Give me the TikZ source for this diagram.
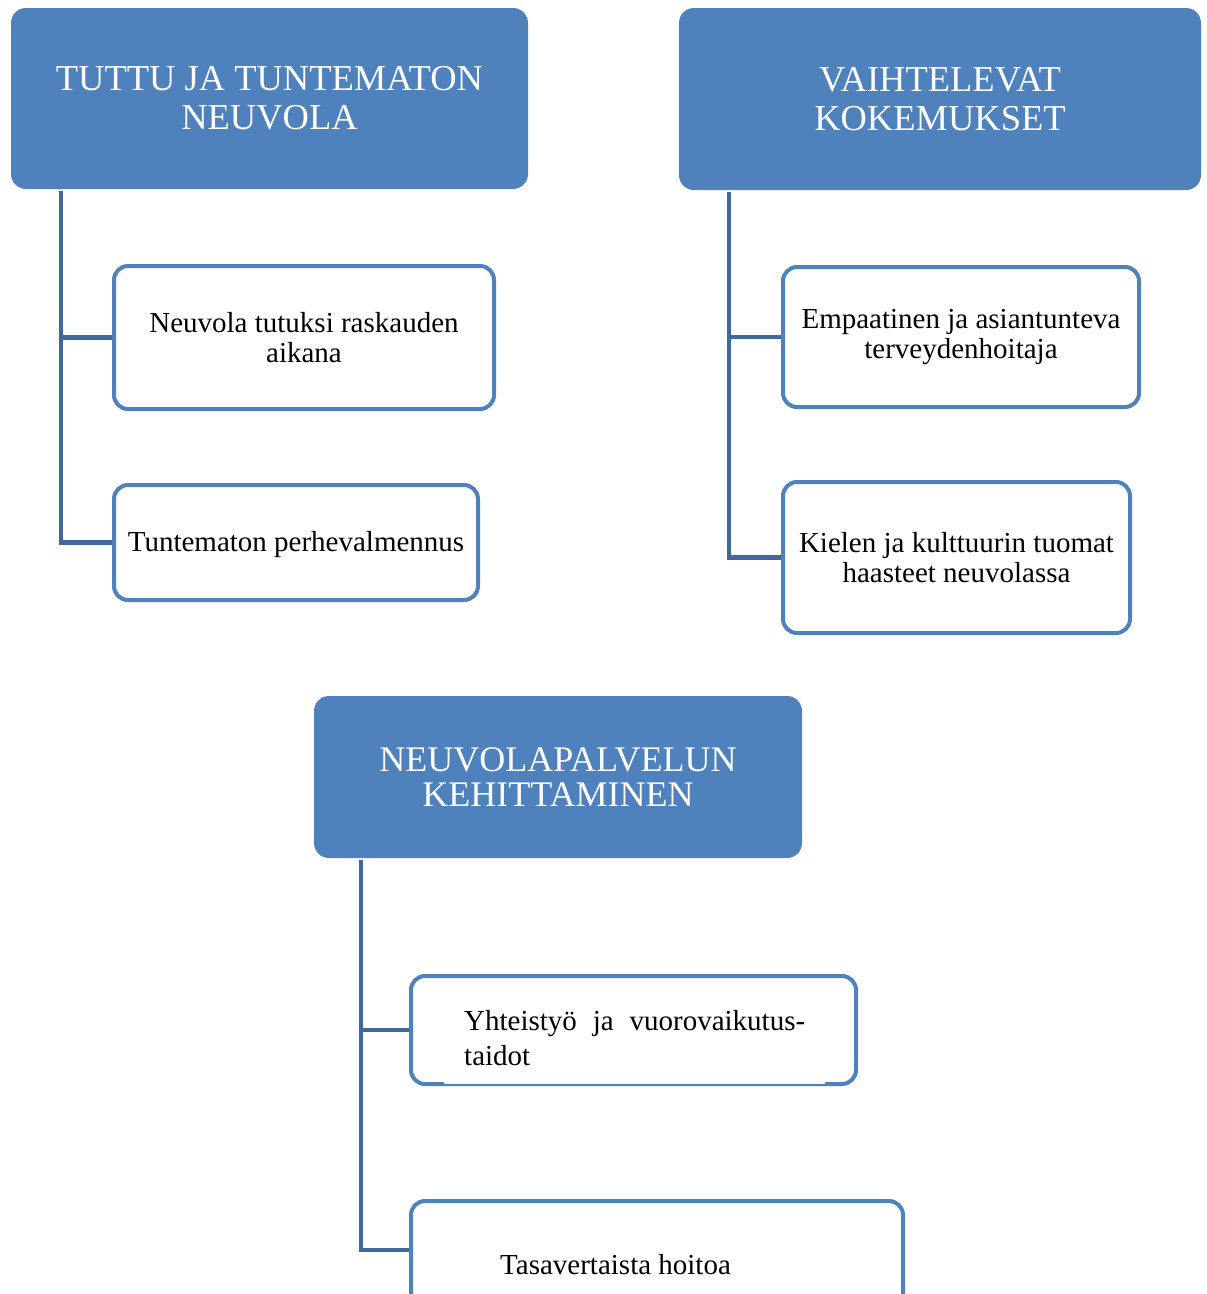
\documentclass[tikz,border=0pt]{standalone}
\usepackage{fontspec}
\setmainfont{Liberation Serif}
\usepackage{xcolor}
\usepackage{tikz}
\definecolor{boxblue}{HTML}{4F81BD}
\definecolor{lineblue}{HTML}{41689C}

\begin{document}
\begin{tikzpicture}[x=1pt, y=-1pt,
  head/.style={fill=boxblue, rounded corners=15pt, text=white, align=center, font=\fontsize{36.5}{39}\selectfont, inner sep=0pt},
  sub/.style={draw=boxblue, fill=white, line width=4pt, rounded corners=14pt, align=center, font=\fontsize{29}{30}\selectfont, inner sep=0pt},
  subtxt/.style={font=\fontsize{29}{35}\selectfont, inner sep=0pt, anchor=west},
  link/.style={draw=lineblue, line width=4.5pt}
]
  \useasboundingbox (0,0) rectangle (1207,1294);

  % Connectors (behind the boxes)
  \coordinate (spineA) at (61,191);
  \coordinate (spineB) at (729,192);
  \coordinate (spineC) at (361,860);

  % Top left group
  \node[head, minimum width=517pt, minimum height=181pt] (tuttu) at (269.5,98.5) {TUTTU JA TUNTEMATON\\NEUVOLA};
  \node[sub, minimum width=380pt, minimum height=143pt] (tutuksi) at (304,337.5) {Neuvola tutuksi raskauden\\aikana};
  \node[sub, minimum width=364pt, minimum height=115pt, text depth=2pt] (perhe) at (296,542.5) {Tuntematon perhevalmennus};

  \draw[link] (spineA) |- (tutuksi.west);
  \draw[link] (spineA) |- (perhe.west);

  % Top right group
  \node[head, minimum width=522pt, minimum height=182pt] (vaiht) at (940,99) {VAIHTELEVAT\\KOKEMUKSET};
  \node[sub, minimum width=356pt, minimum height=140pt] (empa) at (961,337) {Empaatinen ja asiantunteva\\terveydenhoitaja};
  \node[sub, minimum width=347pt, minimum height=151pt] (kieli) at (956.5,557.5) {Kielen ja kulttuurin tuomat\\haasteet neuvolassa};

  \draw[link] (spineB) |- (empa.west);
  \draw[link] (spineB) |- (kieli.west);

  % Bottom group
  \node[head, minimum width=488pt, minimum height=162pt, font=\fontsize{36}{35}\selectfont] (kehit) at (558,777) {NEUVOLAPALVELUN\\KEHITTAMINEN};
  \node[sub, minimum width=445pt, minimum height=108pt] (yhteis) at (633.5,1030) {};
  \fill[white] (444,993) rectangle (825,1084);
  \node[subtxt, text width=341pt, align=justify] (yhteistxt) at (464,1038.5) {Yhteistyö ja vuorovaikutus-\linebreak taidot};
  \node[sub, minimum width=492pt, minimum height=140pt] (tasa) at (657,1271) {};
  \node[subtxt] (tasatxt) at (500,1265) {Tasavertaista hoitoa};

  \draw[link] (spineC) |- (yhteis.west);
  \draw[link] (spineC) |- ([yshift=-51pt]tasa.north west);

\end{tikzpicture}
\end{document}
